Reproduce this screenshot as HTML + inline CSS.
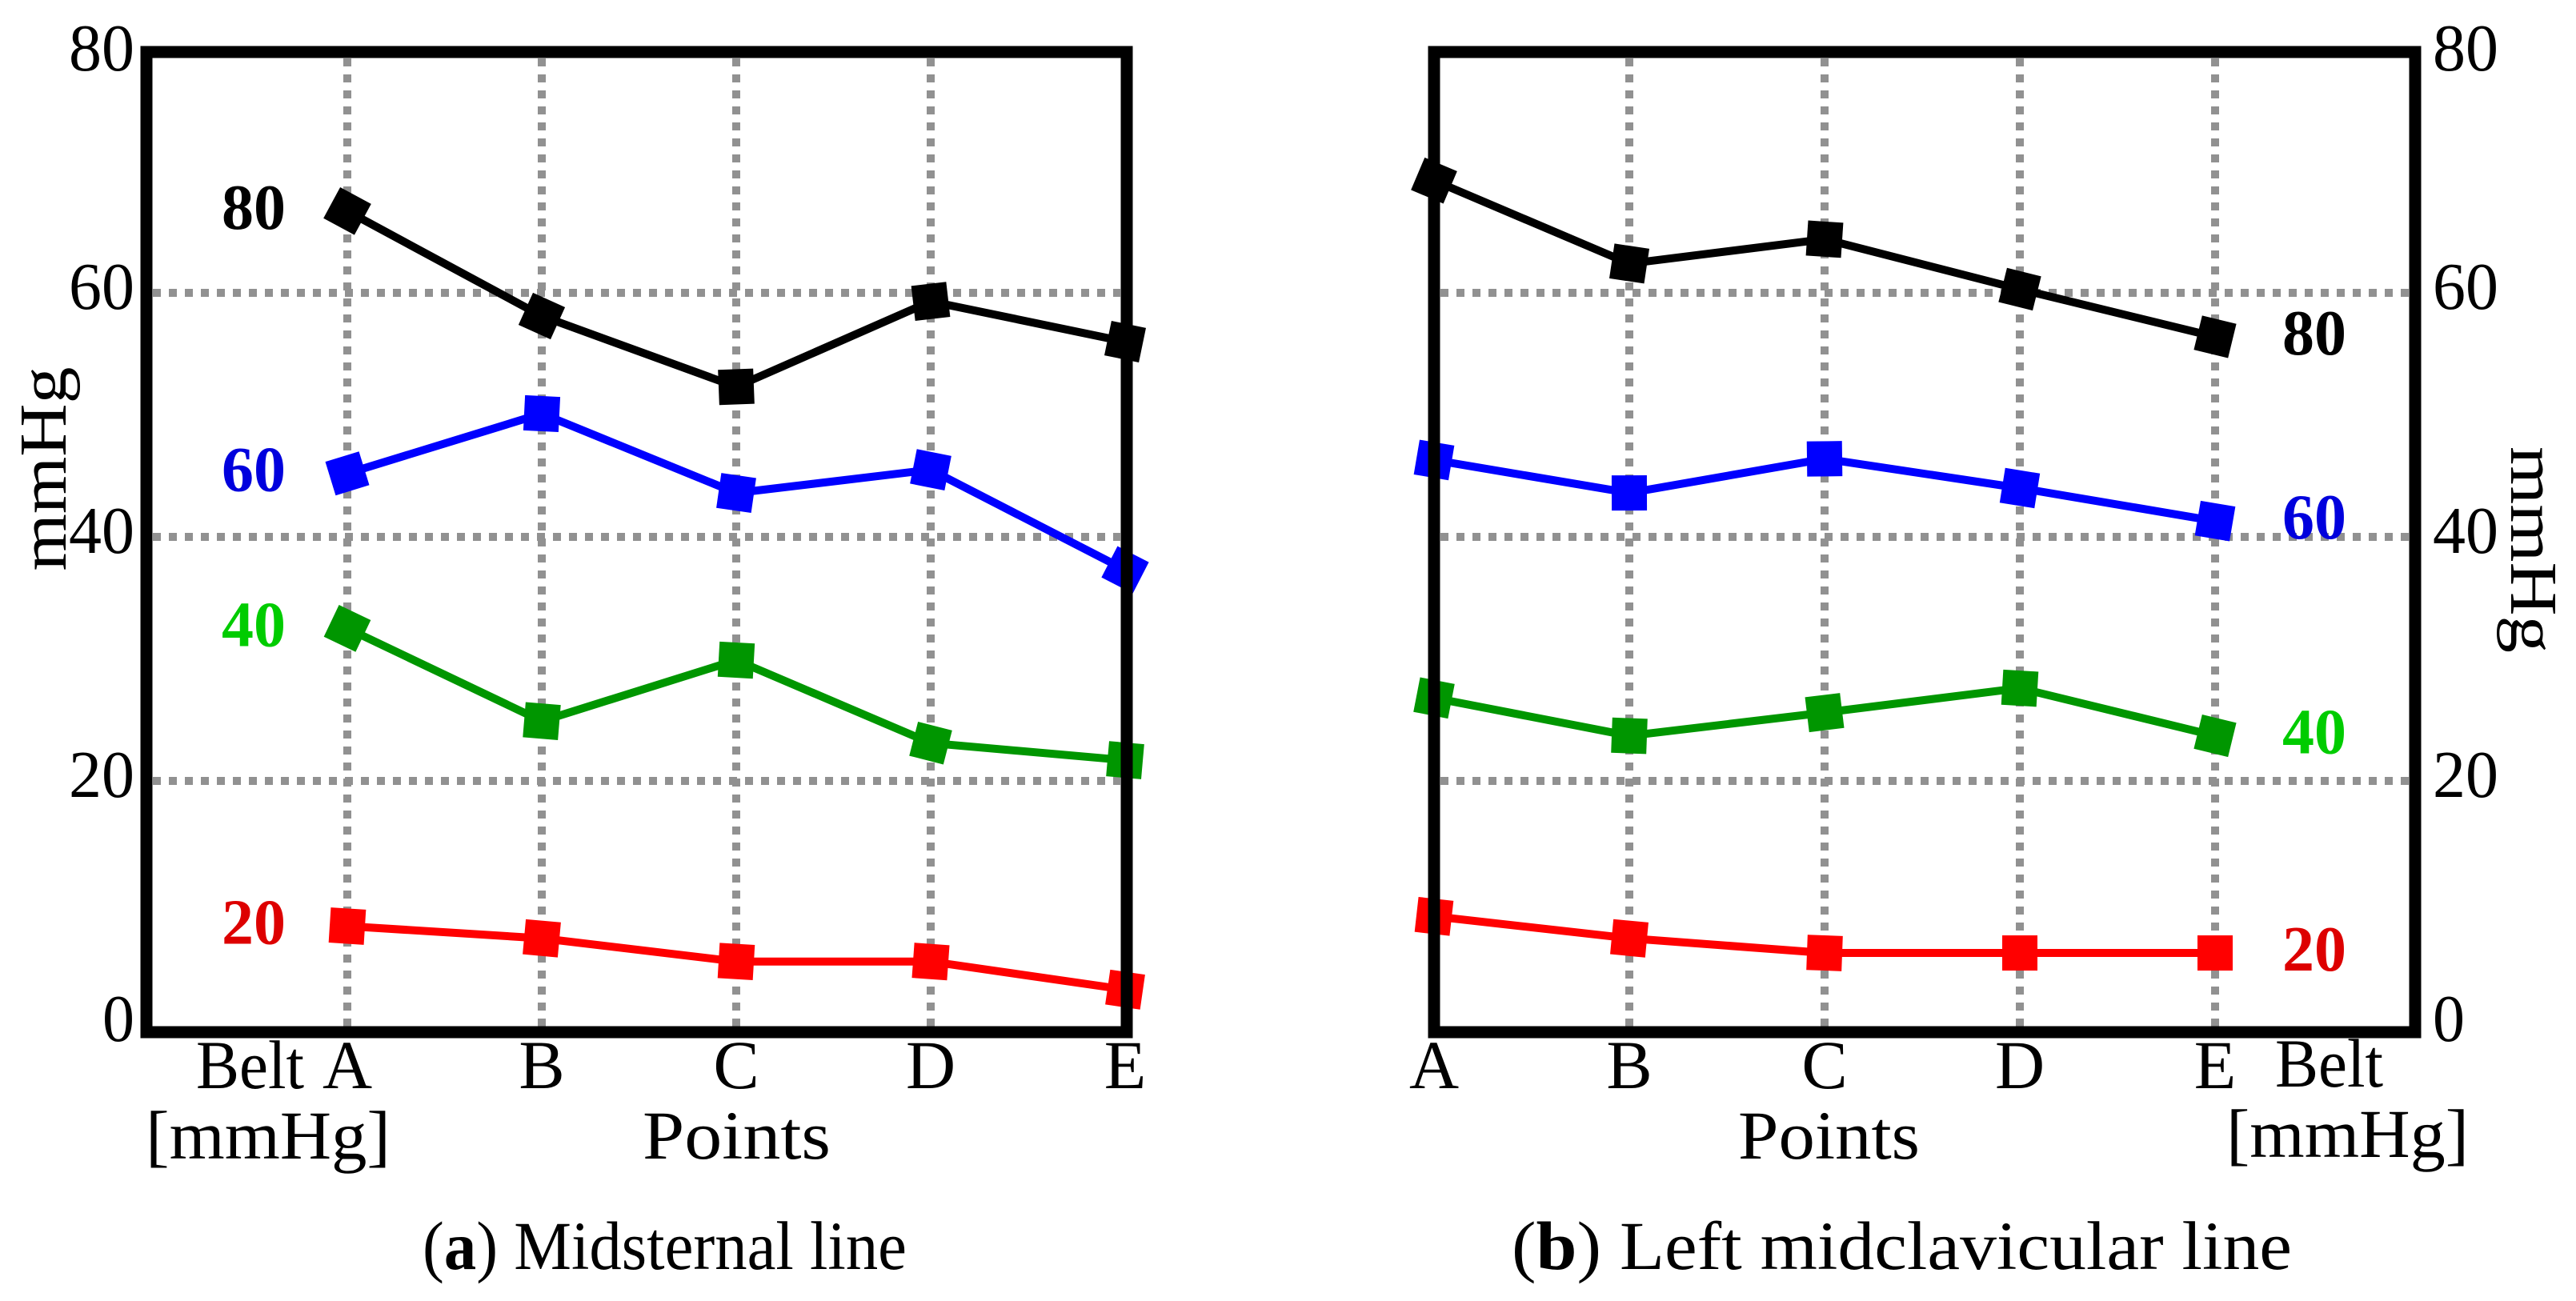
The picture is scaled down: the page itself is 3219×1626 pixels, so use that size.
<!DOCTYPE html>
<html><head><meta charset="utf-8"><style>
html,body{margin:0;padding:0;background:#fff;}
svg{display:block;font-family:"Liberation Serif",serif;}
</style></head><body>
<svg id="chart" width="3219" height="1626" viewBox="0 0 3219 1626" xmlns="http://www.w3.org/2000/svg">
<g id="panelA"></g>
<g id="panelB"></g>
<text x="528" y="1586" font-size="86" textLength="605" lengthAdjust="spacingAndGlyphs">(<tspan font-weight="bold">a</tspan>) Midsternal line</text>
<text x="1889" y="1586" font-size="86" textLength="975" lengthAdjust="spacingAndGlyphs">(<tspan font-weight="bold">b</tspan>) Left midclavicular line</text>
</svg>
<script>
const categories = ["A","B","C","D","E"];
const yTicks = [0,20,40,60,80];
const beltLevels = ["20","40","60","80"];
const a20 = [8.1,7.1,5.2,5.2,2.9];
const a40 = [32.5,24.9,29.9,23.1,21.7];
const a60 = [45.2,50.1,43.6,45.5,37.3];
const a80 = [66.7,58.1,52.3,59.3,56.0];
const b20 = [8.9,7.1,5.9,5.9,5.9];
const b40 = [26.8,23.7,25.6,27.6,23.7];
const b60 = [46.3,43.6,46.4,44.0,41.3];
const b80 = [69.2,62.4,64.4,60.3,56.4];

const NS="http://www.w3.org/2000/svg";
const lineCol={"20":"#ff0000","40":"#009600","60":"#0000ff","80":"#000000"};
const labCol={"20":"#dd0000","40":"#00cc00","60":"#0000dd","80":"#000000"};
function mk(tag,attrs,parent){const e=document.createElementNS(NS,tag);for(const k in attrs)e.setAttribute(k,attrs[k]);parent.appendChild(e);return e;}
function yS(v){return 1281-15.25*v;}

function panel(g,x0,step,frameL,frameR,series,side){
  const xS=i=>x0+i*step;
  yTicks.slice(1,4).forEach(t=>{
    const l=mk('line',{x1:frameL+8,x2:frameR-8,y1:yS(t),y2:yS(t),stroke:'#919191','stroke-width':10,'stroke-dasharray':'10 10'},g);
    
    
  });
  categories.forEach((c,i)=>{
    const x=xS(i);
    if(x>frameL+10&&x<frameR-10){
      const l=mk('line',{x1:x,x2:x,y1:73,y2:1283,stroke:'#919191','stroke-width':10,'stroke-dasharray':'10 10'},g);
      
      
    }
    const t=mk('text',{x:x,y:1360,'font-size':86,'text-anchor':'middle'},g);
    t.textContent=c;
    
    
  });
  beltLevels.forEach((lv,si)=>{
    const vals=series[si];
    const pts=vals.map((v,i)=>[xS(i),yS(v)]);
    const pl=mk('polyline',{points:pts.map(p=>p.join(',')).join(' '),fill:'none',stroke:lineCol[lv],'stroke-width':10,'stroke-linejoin':'miter'},g);
    
    
    pts.forEach((p,i)=>{
      const a=pts[Math.max(0,i-1)],b=pts[Math.min(pts.length-1,i+1)];
      let ang=Math.atan2(b[1]-a[1],b[0]-a[0])*180/Math.PI;
      const r=mk('rect',{x:p[0]-22,y:p[1]-22,width:44,height:44,fill:lineCol[lv],transform:'rotate('+ang.toFixed(1)+' '+p[0]+' '+p[1]+')'},g);
      
      
    });
    const lab = side==='left'
      ? mk('text',{x:277,y:yS(vals[0])+22,'font-size':80,'font-weight':'bold',textLength:80,lengthAdjust:'spacingAndGlyphs',fill:labCol[lv]},g)
      : mk('text',{x:2852,y:yS(vals[4])+22,'font-size':80,'font-weight':'bold',textLength:80,lengthAdjust:'spacingAndGlyphs',fill:labCol[lv]},g);
    lab.textContent=lv;
    
    
  });
  const f=mk('rect',{x:frameL,y:65,width:frameR-frameL,height:1290-65,fill:'none',stroke:'#000','stroke-width':15},g);
  
  
  yTicks.forEach(t=>{
    const w = t===0?40:82;
    const tx = side==='left'
      ? mk('text',{x:168-w,y:Math.min(yS(t)+20,1310),'font-size':84,textLength:w,lengthAdjust:'spacingAndGlyphs'},g)
      : mk('text',{x:3040,y:Math.min(yS(t)+20,1310),'font-size':84,textLength:w,lengthAdjust:'spacingAndGlyphs'},g);
    if(t===80) tx.setAttribute('y',88);
    tx.textContent=t;
    
    
  });
}

const gA=document.getElementById('panelA'), gB=document.getElementById('panelB');
panel(gA,434,243,183,1408,[a20,a40,a60,a80],'left');
panel(gB,1792,244,1792,3018,[b20,b40,b60,b80],'right');

function txt(g,attrs,s,name){const t=mk('text',attrs,g);t.textContent=s;return t;}
txt(gA,{x:245,y:1360,'font-size':86,textLength:135,lengthAdjust:'spacingAndGlyphs'},'Belt','belt-axis-label');
txt(gA,{x:182,y:1448,'font-size':86,textLength:306,lengthAdjust:'spacingAndGlyphs'},'[mmHg]','belt-unit-label');
txt(gA,{x:803,y:1448,'font-size':86,textLength:235,lengthAdjust:'spacingAndGlyphs'},'Points','x-axis-title');
txt(gA,{x:82,y:586,'font-size':84,'text-anchor':'middle',textLength:255,lengthAdjust:'spacingAndGlyphs',transform:'rotate(-90 82 586)'},'mmHg','y-axis-title');
txt(gB,{x:2843,y:1358,'font-size':86,textLength:135,lengthAdjust:'spacingAndGlyphs'},'Belt','belt-axis-label');
txt(gB,{x:2782,y:1446,'font-size':86,textLength:303,lengthAdjust:'spacingAndGlyphs'},'[mmHg]','belt-unit-label');
txt(gB,{x:2172,y:1448,'font-size':86,textLength:227,lengthAdjust:'spacingAndGlyphs'},'Points','x-axis-title');
txt(gB,{x:3138,y:687,'font-size':84,'text-anchor':'middle',textLength:258,lengthAdjust:'spacingAndGlyphs',transform:'rotate(90 3138 687)'},'mmHg','y-axis-title');
</script>
</body></html>
